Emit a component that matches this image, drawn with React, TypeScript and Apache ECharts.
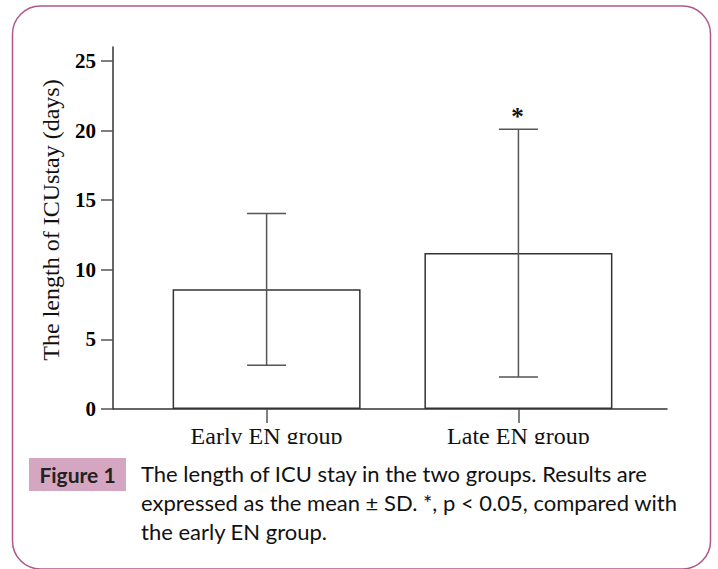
import React, { useEffect, useRef } from "react";
import * as echarts from "echarts";

const categories = ["Early EN group", "Late EN group"];
const means = [8.6, 11.2];
const sds = [5.45, 8.9];
const sigMarks = ["", "*"];
const yTicks = [0, 5, 10, 15, 20, 25];
const yAxisTitle = "The length of ICUstay (days)";
const figureLabel = "Figure 1";
const captionLines = [
  "The length of ICU stay in the two groups. Results are",
  "expressed as the mean ± SD. *, p < 0.05, compared with",
  "the early EN group.",
];

const SERIF = "'Liberation Serif', 'Times New Roman', serif";
const SANS = "Lato, 'Noto Sans', sans-serif";

export default function App() {
  const ref = useRef<HTMLDivElement>(null);

  useEffect(() => {
    if (!ref.current) return;
    document.body.style.margin = "0";
    const chart = echarts.init(ref.current, undefined, { renderer: "svg" });

    const catIdx = categories.map((_, i) => i);
    const barData = catIdx.map((i) => [i, means[i]]);
    const errData = catIdx.map((i) => [i, means[i], sds[i]]);

    chart.setOption({
      animation: false,
      backgroundColor: "#ffffff",
      grid: { left: 113, right: 51, top: 47, bottom: 160, containLabel: false },
      xAxis: {
        type: "value",
        min: -0.61,
        max: 1.59,
        splitLine: { show: false },
        axisLine: { show: true, onZero: false, lineStyle: { color: "#333", width: 1.5 } },
        axisTick: {
          show: true,
          customValues: catIdx,
          length: 14,
          lineStyle: { color: "#555", width: 1.5 },
        },
        axisLabel: {
          customValues: catIdx,
          formatter: (v: number) => categories[Math.round(v)] ?? "",
          fontFamily: SERIF,
          fontSize: 24,
          color: "#111",
          margin: 15,
        },
      },
      yAxis: {
        type: "value",
        min: 0,
        max: 26,
        interval: 5,
        splitLine: { show: false },
        axisLine: { show: true, onZero: false, lineStyle: { color: "#333", width: 1.5 } },
        axisTick: {
          show: true,
          customValues: yTicks,
          length: 12,
          lineStyle: { color: "#555", width: 1.5 },
        },
        axisLabel: {
          customValues: yTicks,
          fontFamily: SERIF,
          fontWeight: "bold",
          fontSize: 21,
          color: "#000",
          margin: 17,
        },
        name: yAxisTitle,
        nameLocation: "middle",
        nameGap: 50,
        nameTextStyle: {
          fontFamily: SERIF,
          fontSize: 24,
          color: "#111",
          padding: [0, 0, 0, 16],
        },
      },
      series: [
        {
          type: "bar",
          data: barData,
          barWidth: 188,
          itemStyle: { color: "#ffffff", borderColor: "#333", borderWidth: 1.5 },
          z: 2,
        },
        {
          type: "custom",
          data: errData,
          z: 3,
          renderItem: (params: any, api: any) => {
            const x = api.value(0);
            const m = api.value(1);
            const s = api.value(2);
            const top = api.coord([x, m + s]);
            const bot = api.coord([x, m - s]);
            const hw = 19.5;
            const style = { stroke: "#555", lineWidth: 1.5 };
            const children: any[] = [
              { type: "line", shape: { x1: top[0], y1: top[1], x2: bot[0], y2: bot[1] }, style },
              { type: "line", shape: { x1: top[0] - hw, y1: top[1], x2: top[0] + hw, y2: top[1] }, style },
              { type: "line", shape: { x1: bot[0] - hw, y1: bot[1], x2: bot[0] + hw, y2: bot[1] }, style },
            ];
            const mark = sigMarks[params.dataIndex];
            if (mark) {
              children.push({
                type: "text",
                style: {
                  text: mark,
                  x: top[0] - 1,
                  y: top[1] - 13,
                  fill: "#111",
                  font: `bold 25px ${SERIF}`,
                  align: "center",
                  verticalAlign: "middle",
                },
              });
            }
            return { type: "group", children };
          },
        },
      ],
      graphic: [
        {
          type: "rect",
          z: 100,
          shape: { x: 150, y: 444, width: 500, height: 12 },
          style: { fill: "#ffffff" },
        },
        {
          type: "rect",
          z: 101,
          shape: { x: 12.5, y: 6, width: 698, height: 563, r: 28 },
          style: { fill: "none", stroke: "#b0588c", lineWidth: 1.5 },
        },
        {
          type: "rect",
          z: 101,
          shape: { x: 29, y: 458, width: 97, height: 33 },
          style: { fill: "#d5a6c1" },
        },
        {
          type: "text",
          z: 102,
          style: {
            text: figureLabel,
            x: 77.5,
            y: 474.5,
            align: "center",
            verticalAlign: "middle",
            font: `bold 21px ${SANS}`,
            fill: "#222",
          },
        },
        {
          type: "text",
          z: 102,
          style: {
            text: captionLines.join("\n"),
            x: 141,
            y: 459,
            align: "left",
            verticalAlign: "top",
            font: `22px ${SANS}`,
            lineHeight: 29,
            fill: "#111",
          },
        },
      ],
    });

    return () => chart.dispose();
  }, []);

  return (
    <div
      ref={ref}
      style={{ position: "absolute", left: 0, top: 0, width: 718, height: 569 }}
    />
  );
}
